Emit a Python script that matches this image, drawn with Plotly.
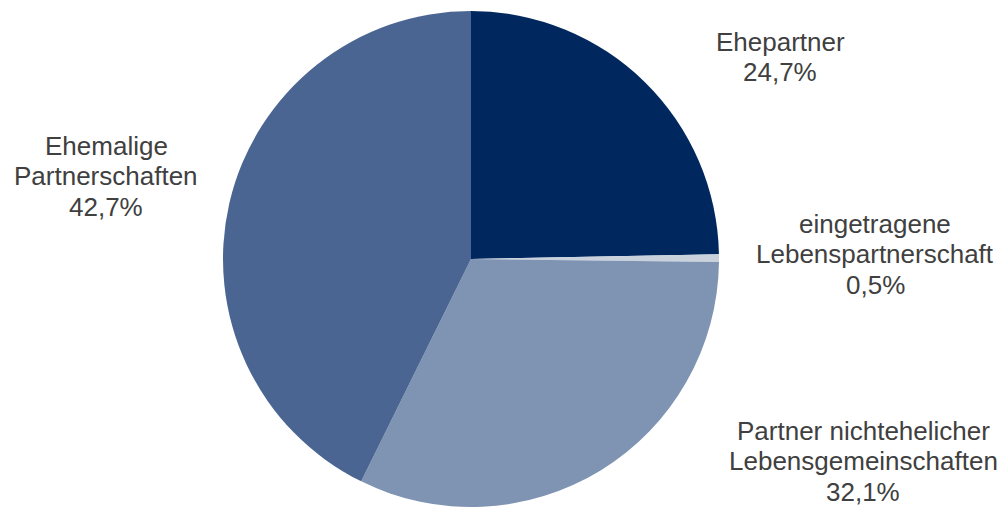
import plotly.graph_objects as go

# Data
categories = ["Ehepartner", "eingetragene Lebenspartnerschaft",
              "Partner nichtehelicher Lebensgemeinschaften", "Ehemalige Partnerschaften"]
label_lines = [["Ehepartner"], ["eingetragene", "Lebenspartnerschaft"],
               ["Partner nichtehelicher", "Lebensgemeinschaften"], ["Ehemalige", "Partnerschaften"]]
shares = [24.7, 0.5, 32.1, 42.7]
colors = ["#00285F", "#C9D1DD", "#7F93B2", "#4A6591"]

W, H = 1005, 510
# label block centers in pixels (x, y of block center)
label_pos = [(780, 57), (875, 254), (863, 461), (106, 176)]
LINE = 30.5
FONT_SIZE = 26

fig = go.Figure(go.Pie(
    labels=categories, values=shares, sort=False, direction="clockwise",
    rotation=0, textinfo="none", hoverinfo="label+percent",
    marker=dict(colors=colors, line=dict(width=0)),
    domain=dict(x=[223 / W, 719 / W], y=[3 / H, 1 - 11 / H]),
    showlegend=False,
))

annotations = []
for lines, val, (cx, cy) in zip(label_lines, shares, label_pos):
    all_lines = lines + [f"{val:.1f}".replace(".", ",") + "%"]
    n = len(all_lines)
    for i, t in enumerate(all_lines):
        y = cy + (i - (n - 1) / 2) * LINE
        annotations.append(dict(
            text=t, x=cx / W, y=1 - y / H, xref="paper", yref="paper",
            xanchor="center", yanchor="middle", showarrow=False,
            font=dict(family="Liberation Sans, Arial, sans-serif", size=FONT_SIZE, color="#404040"),
        ))

fig.update_layout(
    width=W, height=H, margin=dict(l=0, r=0, t=0, b=0),
    paper_bgcolor="white", plot_bgcolor="white",
    annotations=annotations,
)
fig.write_html("out.html", config={"displayModeBar": False},
               post_script="document.body.style.margin='0px';document.body.style.overflow='hidden';")
